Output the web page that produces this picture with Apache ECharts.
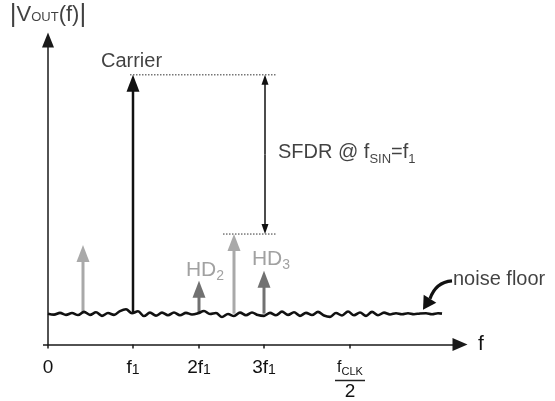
<!DOCTYPE html>
<html>
<head>
<meta charset="utf-8">
<script src="https://cdn.jsdelivr.net/npm/echarts@6/dist/echarts.min.js"></script>
<style>
html,body{margin:0;padding:0;background:#fff;}
#chart{width:555px;height:401px;}
</style>
</head>
<body>
<div id="chart"></div>
<script>
// ---- data (schematic units: x = frequency position, y = magnitude) ----
const tickPositions = [0, 85, 151, 216, 302];
const tickLabels = ['0', 'f1', '2f1', '3f1', 'fCLK/2'];

const toneNames = ['image', 'carrier', 'HD2', 'spur', 'HD3'];
const toneX = [35, 85, 151, 186, 216];
const toneLevel = [100, 271, 64, 111, 74];

const noiseBase = 31;
const noiseX = [0,6,12,18,24,30,36,42,48,54,60,66,72,78,84,90,96,102,108,114,120,126,132,138,144,150,156,162,168,174,180,186,192,198,204,210,216,222,228,234,240,246,252,258,264,270,276,282,288,294,300,306,312,318,324,330,336,342,348,354,360,366,372,378,384,390,394];
const noiseLevel = [31,30,31.8,29.8,31.6,29.6,32.8,29.8,32.4,28.8,31.6,29.8,33.6,35.4,31.4,33.4,28.6,32,29,32,29.4,32.2,29.4,31.8,30.2,31.4,33.6,30.6,31.6,27.6,30.6,28.6,32,29.4,32.2,29.6,28.8,31.8,29.4,33,29.8,32.4,28.8,31.8,29.6,32.8,29.2,27.8,31.6,29.2,33.2,29.4,32.2,28.8,32.8,29.4,32,30.2,31.4,30.4,31.4,30.4,31.2,31.4,30.4,31.4,31];

// ---- styles ----
const FONT = '"Liberation Sans", Arial, Helvetica, sans-serif';
const toneColor = { image: '#a9a9a9', carrier: '#111111', HD2: '#717171', spur: '#a9a9a9', HD3: '#717171' };
const toneWidth = { image: 3, carrier: 2.5, HD2: 3, spur: 3, HD3: 3 };
const textGray = '#8a8a8a';

const carrierIdx = toneNames.indexOf('carrier');
const spurIdx = toneNames.indexOf('spur');
const sfdrX = 217;

const chart = echarts.init(document.getElementById('chart'), null, { renderer: 'canvas' });

const subRich = (size, color, lh, subSize) => ({
  m: { fontFamily: FONT, fontSize: size, color: color, lineHeight: lh, verticalAlign: 'middle' },
  s: { fontFamily: FONT, fontSize: subSize, color: color, lineHeight: lh, verticalAlign: 'bottom' }
});

function fmtTick(v) {
  const i = tickPositions.indexOf(v);
  const t = tickLabels[i];
  if (t === undefined) return '';
  if (t === '0') return '{m|0}';
  if (t === 'fCLK/2') return '{fm|f}{fs|CLK}\n{bar|}\n{two|2}';
  const m = t.match(/^(\d*f)(\d)$/);
  return '{m|' + m[1] + '}{s|' + m[2] + '}';
}

const tickRich = Object.assign(subRich(19, '#111', 20, 14), {
  fm: { fontFamily: FONT, fontSize: 16, color: '#111', lineHeight: 20, verticalAlign: 'middle' },
  fs: { fontFamily: FONT, fontSize: 11, color: '#111', lineHeight: 20, verticalAlign: 'bottom' },
  bar: { width: 30, height: 1.5, backgroundColor: '#222', lineHeight: 6 },
  two: { fontFamily: FONT, fontSize: 19, color: '#111', lineHeight: 16, verticalAlign: 'middle' }
});

function arrowGroup(p0, p1, color, width, headLen, headHalf) {
  const dx = p1[0] - p0[0], dy = p1[1] - p0[1];
  const len = Math.sqrt(dx * dx + dy * dy) || 1;
  const ux = dx / len, uy = dy / len;
  const bx = p1[0] - ux * headLen, by = p1[1] - uy * headLen;
  return [
    { type: 'line', shape: { x1: p0[0], y1: p0[1], x2: bx + ux * 1, y2: by + uy * 1 }, style: { stroke: color, lineWidth: width } },
    { type: 'polygon', shape: { points: [[p1[0], p1[1]], [bx - uy * headHalf, by + ux * headHalf], [bx + uy * headHalf, by - ux * headHalf]] }, style: { fill: color } }
  ];
}

const toneData = toneX.map((x, i) => [x, toneLevel[i], i]);

const annotations = [
  { value: [83.5, 284], label: { position: 'inside', formatter: 'Carrier', fontFamily: FONT, fontSize: 20, color: '#111' } },
  { value: [230, 192.5], label: { position: 'right', distance: 0, formatter: 'SFDR @ f{s|SIN}{m|=f}{s|1}', rich: subRich(20, '#111', 26, 13), fontFamily: FONT, fontSize: 20, color: '#111' } },
  { value: [157, 75], label: { position: 'inside', formatter: '{m|HD}{s|2}', rich: subRich(21, textGray, 26, 14) } },
  { value: [223, 86], label: { position: 'inside', formatter: '{m|HD}{s|3}', rich: subRich(21, textGray, 26, 14) } },
  { value: [405, 65], label: { position: 'right', distance: 0, formatter: 'noise floor', fontFamily: FONT, fontSize: 20, color: '#111' } },
  { value: [0, 331], label: { position: 'inside', formatter: '{b||}{m|V}{s|OUT}{m|(f)}{b||}', rich: {
      b: { fontFamily: FONT, fontSize: 26, color: '#111', lineHeight: 28, verticalAlign: 'middle' },
      m: { fontFamily: FONT, fontSize: 22, color: '#111', lineHeight: 28, verticalAlign: 'middle' },
      s: { fontFamily: FONT, fontSize: 13, color: '#111', lineHeight: 28, verticalAlign: 'middle', padding: [4, 0, 0, 0] }
  } } }
];

const option = {
  backgroundColor: '#ffffff',
  animation: false,
  grid: { left: 48, right: 95, top: 40, bottom: 55, containLabel: false },
  xAxis: {
    type: 'value', min: 0, max: 412,
    name: 'f', nameLocation: 'end', nameGap: 18,
    nameTextStyle: { fontFamily: FONT, fontSize: 21, color: '#111', verticalAlign: 'middle', padding: [0, 0, 2, 0] },
    splitLine: { show: false },
    axisLine: { show: true, onZero: false, lineStyle: { color: '#1a1a1a', width: 1.5 }, symbol: ['none', 'triangle'], symbolSize: [13, 15] },
    axisTick: { show: true, customValues: tickPositions, length: 4, lineStyle: { color: '#1a1a1a', width: 1.5 } },
    axisLabel: { show: true, customValues: tickPositions, margin: 13, formatter: fmtTick, rich: tickRich, color: '#111' }
  },
  yAxis: {
    type: 'value', min: 0, max: 306,
    splitLine: { show: false },
    axisLine: { show: true, onZero: false, lineStyle: { color: '#1a1a1a', width: 1.5 }, symbol: ['none', 'triangle'], symbolSize: [12, 15] },
    axisTick: { show: true, customValues: [0], length: 5, lineStyle: { color: '#1a1a1a', width: 1.5 } },
    axisLabel: { show: false }
  },
  series: [
    {
      type: 'line', name: 'carrier ref', silent: true, symbol: 'none', z: 3,
      data: [[toneX[carrierIdx] - 3, toneLevel[carrierIdx]], [sfdrX + 11, toneLevel[carrierIdx]]],
      lineStyle: { color: '#333', width: 1, type: [1.5, 1.5] }
    },
    {
      type: 'line', name: 'spur ref', silent: true, symbol: 'none', z: 3,
      data: [[toneX[spurIdx] - 11, toneLevel[spurIdx]], [sfdrX + 12, toneLevel[spurIdx]]],
      lineStyle: { color: '#333', width: 1, type: [1.5, 1.5] }
    },
    {
      type: 'custom', name: 'tones', z: 4,
      data: toneData,
      renderItem: function (params, api) {
        const name = toneNames[api.value(2)];
        const tip = api.coord([api.value(0), api.value(1)]);
        const base = api.coord([api.value(0), noiseBase]);
        return { type: 'group', children: arrowGroup(base, tip, toneColor[name], toneWidth[name], 17, 6.5) };
      }
    },
    {
      type: 'custom', name: 'sfdr', z: 4,
      data: [[sfdrX, toneLevel[carrierIdx], toneLevel[spurIdx]]],
      renderItem: function (params, api) {
        const top = api.coord([api.value(0), api.value(1)]);
        const bot = api.coord([api.value(0), api.value(2)]);
        const mid = [(top[0] + bot[0]) / 2, (top[1] + bot[1]) / 2];
        return { type: 'group', children: arrowGroup(mid, top, '#111', 1.5, 10, 3.5).concat(arrowGroup(mid, bot, '#111', 1.5, 10, 3.5)) };
      }
    },
    {
      type: 'line', name: 'noise floor', symbol: 'none', smooth: 0.35, z: 6,
      data: noiseX.map((x, i) => [x, noiseLevel[i]]),
      lineStyle: { color: '#111', width: 2.6 }
    },
    {
      type: 'custom', name: 'pointer', z: 6,
      data: [[404, 64]],
      renderItem: function (params, api) {
        const s = api.coord([api.value(0), api.value(1)]);
        const c1 = api.coord([392, 63]);
        const c2 = api.coord([385, 55]);
        const e = api.coord([382, 46]);
        const t = api.coord([375, 35]);
        const dx = t[0] - e[0], dy = t[1] - e[1];
        const L = Math.sqrt(dx * dx + dy * dy);
        const ux = dx / L, uy = dy / L, hh = 7.5;
        return { type: 'group', children: [
          { type: 'bezierCurve', shape: { x1: s[0], y1: s[1], cpx1: c1[0], cpy1: c1[1], cpx2: c2[0], cpy2: c2[1], x2: e[0], y2: e[1] }, style: { stroke: '#111', lineWidth: 3.2, fill: null } },
          { type: 'polygon', shape: { points: [[t[0], t[1]], [e[0] - uy * hh, e[1] + ux * hh], [e[0] + uy * hh, e[1] - ux * hh]] }, style: { fill: '#111' } }
        ] };
      }
    },
    {
      type: 'scatter', name: 'annotations', symbolSize: 0, clip: false, silent: true, z: 7,
      data: annotations,
      label: { show: true }
    }
  ]
};
chart.setOption(option);
</script>
</body>
</html>
